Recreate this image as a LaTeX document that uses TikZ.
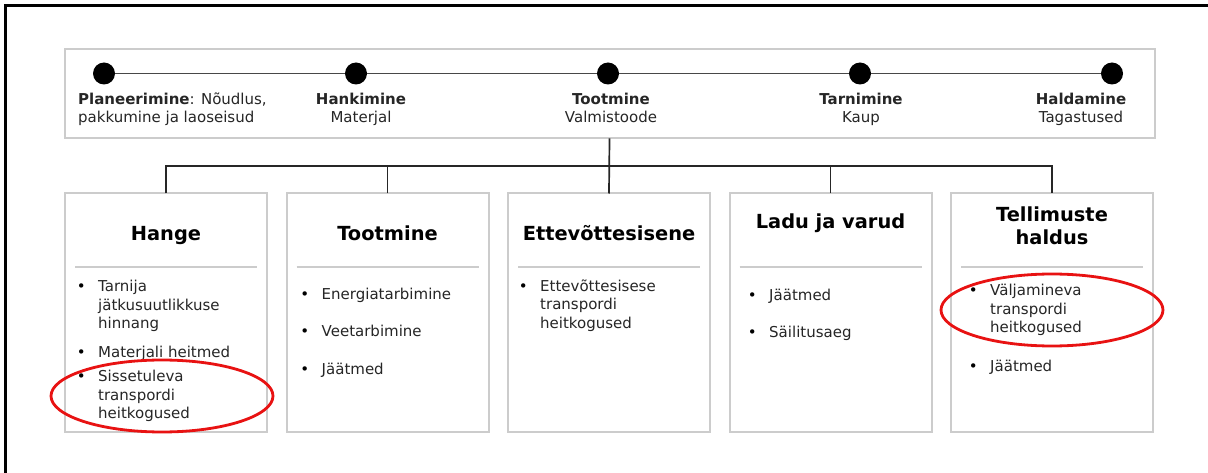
\documentclass[tikz,border=0pt]{standalone}
\usepackage{fontspec}
\setmainfont{DejaVu Sans}
\usepackage{tikz}
\usetikzlibrary{positioning}
\definecolor{boxgray}{RGB}{204,204,204}
\definecolor{inkgray}{RGB}{38,38,38}
\definecolor{markred}{RGB}{232,18,18}
\newcommand{\lstrut}{\rule{0pt}{12.5pt}}
\newcommand{\tstrut}{\rule{0pt}{16pt}}
\tikzstyle{tlbar}=[rectangle,draw=boxgray,line width=2pt,minimum width=1090pt,minimum height=89pt,inner sep=0pt,outer sep=0pt]
\tikzstyle{tdot}=[circle,fill=black,minimum size=22pt,inner sep=0pt,outer sep=0pt]
\tikzstyle{tline}=[draw=inkgray!85,line width=1.5pt]
\tikzstyle{tlabel}=[inner sep=0pt,font=\fontsize{15}{18.5}\selectfont,text=inkgray]
\tikzstyle{areabox}=[rectangle,draw=boxgray,line width=2pt,minimum width=202pt,minimum height=238pt,inner sep=0pt,outer sep=0pt]
\tikzstyle{areatitle}=[inner sep=0pt,anchor=north,align=center,font=\fontsize{19.4}{23}\selectfont\bfseries]
\tikzstyle{bmark}=[inner sep=0pt,anchor=north east,font=\fontsize{15}{18.5}\selectfont]
\tikzstyle{bitem}=[inner sep=0pt,anchor=north west,align=left,font=\fontsize{15}{18.5}\selectfont,text=inkgray,
                   label={[bmark]north west:{\lstrut\textbullet\hspace*{12pt}}}]
\tikzstyle{divline}=[draw=boxgray,line width=2pt]
\tikzstyle{link}=[draw=inkgray,line width=1.7pt]
\tikzstyle{ring}=[draw=markred,line width=2.8pt]

\begin{document}
\begin{tikzpicture}[x=1pt,y=-1pt,node distance=19.5pt]
      \useasboundingbox (0,0) rectangle (1208,473);
      \fill[white] (-10,-10) rectangle (1218,483);
      \draw[line width=3.5pt] (5.3,483) -- (5.3,5.6) -- (1218,5.6);

      % timeline
      \node[tlbar] (tl) at (609.5,93.8) {};
      \node[tdot] (p1) at (104,73.5) {};
      \node[tdot,right=230pt of p1] (p2) {};
      \node[tdot,right=230pt of p2] (p3) {};
      \node[tdot,right=230pt of p3] (p4) {};
      \node[tdot,right=230pt of p4] (p5) {};
      \draw[tline] (p1) -- (p2) -- (p3) -- (p4) -- (p5);

      \node[tlabel,anchor=north west,align=left] (l1) at ([shift={(-26,18)}]p1)
        {\lstrut\textbf{Planeerimine}: Nõudlus,\\pakkumine ja laoseisud};
      \node[tlabel,anchor=north,align=center] (l2) at ([shift={(5,18)}]p2)
        {\lstrut\textbf{Hankimine}\\Materjal};
      \node[tlabel,anchor=north,align=center] (l3) at ([shift={(3,18)}]p3)
        {\lstrut\textbf{Tootmine}\\Valmistoode};
      \node[tlabel,anchor=north,align=center] (l4) at ([shift={(1,18)}]p4)
        {\lstrut\textbf{Tarnimine}\\Kaup};
      \node[tlabel,anchor=north,align=center] (l5) at ([shift={(-31,18)}]p5)
        {\lstrut\textbf{Haldamine}\\Tagastused};

      % areas
      \node[areabox,anchor=north] (b1) at (166,193.5) {};
      \node[areabox,right=of b1] (b2) {};
      \node[areabox,right=of b2] (b3) {};
      \node[areabox,right=of b3] (b4) {};
      \node[areabox,right=of b4] (b5) {};

      \coordinate (bar) at (0,166);
      \draw[link] (tl.south) -- (b3.north);
      \draw[link] (b1.north) -- (b1.north |- bar) -| (b5.north);
      \draw[link] (b2.north) -- (b2.north |- bar);
      \draw[link] (b4.north) -- (b4.north |- bar);

      \node[areatitle] (t1) at ([yshift=-30.5pt]b1.north) {\tstrut Hange};
      \node[areatitle] (t2) at ([yshift=-30.5pt]b2.north) {\tstrut Tootmine};
      \node[areatitle] (t3) at ([yshift=-30.5pt]b3.north) {\tstrut Ettevõttesisene};
      \node[areatitle] (t4) at ([yshift=-18.8pt]b4.north) {\tstrut Ladu ja varud};
      \node[areatitle] (t5) at ([yshift=-11.5pt]b5.north) {\tstrut Tellimuste\\haldus};

      \draw[divline] ([shift={(10,73.5)}]b1.north west) -- ([shift={(-10,73.5)}]b1.north east);
      \draw[divline] ([shift={(10,73.5)}]b2.north west) -- ([shift={(-10,73.5)}]b2.north east);
      \draw[divline] ([shift={(10,73.5)}]b3.north west) -- ([shift={(-10,73.5)}]b3.north east);
      \draw[divline] ([shift={(10,73.5)}]b4.north west) -- ([shift={(-10,73.5)}]b4.north east);
      \draw[divline] ([shift={(10,73.5)}]b5.north west) -- ([shift={(-10,73.5)}]b5.north east);

      \node[bitem] (i11) at ([shift={(33,85.5)}]b1.north west) {\lstrut Tarnija\\jätkusuutlikkuse\\hinnang};
      \node[bitem] (i12) at ([shift={(33,151.5)}]b1.north west) {\lstrut Materjali heitmed};
      \node[bitem] (i13) at ([shift={(33,175.5)}]b1.north west) {\lstrut Sissetuleva\\transpordi\\heitkogused};

      \node[bitem] (i21) at ([shift={(35,93)}]b2.north west) {\lstrut Energiatarbimine};
      \node[bitem] (i22) at ([shift={(35,130.5)}]b2.north west) {\lstrut Veetarbimine};
      \node[bitem] (i23) at ([shift={(35,168.5)}]b2.north west) {\lstrut Jäätmed};

      \node[bitem] (i31) at ([shift={(32,85)}]b3.north west) {\lstrut Ettevõttesisese\\transpordi\\heitkogused};

      \node[bitem] (i41) at ([shift={(39.5,94)}]b4.north west) {\lstrut Jäätmed};
      \node[bitem] (i42) at ([shift={(39.5,131.5)}]b4.north west) {\lstrut Säilitusaeg};

      \node[bitem] (i51) at ([shift={(39,89.5)}]b5.north west) {\lstrut Väljamineva\\transpordi\\heitkogused};
      \node[bitem] (i52) at ([shift={(39,165)}]b5.north west) {\lstrut Jäätmed};

      % highlights
      \draw[ring] (162,396) ellipse [x radius=111, y radius=36];
      \draw[ring] (1052,310) ellipse [x radius=111, y radius=36];
    \end{tikzpicture}
\end{document}
